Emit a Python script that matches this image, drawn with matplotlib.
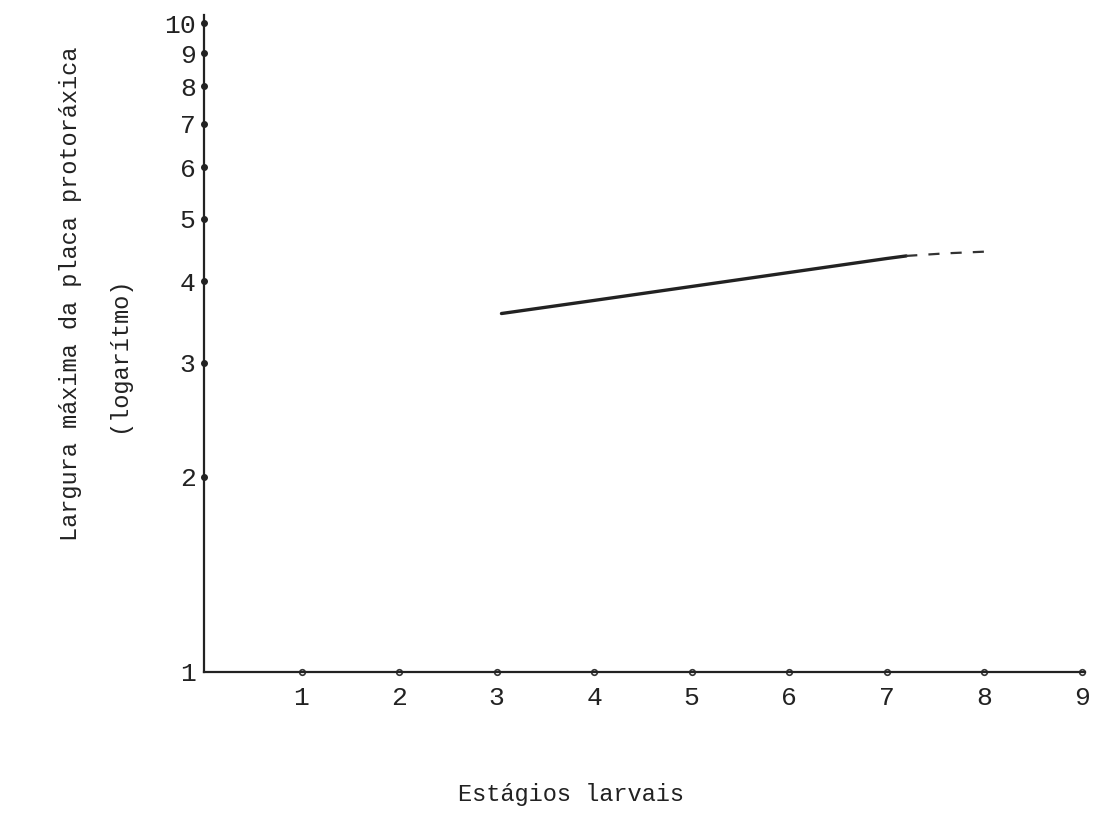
import numpy as np
import matplotlib
matplotlib.use('Agg')
import matplotlib.pyplot as plt
from matplotlib.ticker import FixedLocator, NullLocator

plt.rcParams['font.family'] = ['Liberation Mono', 'DejaVu Sans Mono']

# stages (x) and max width on log scale (y)
stages_solid = [3.05, 4, 5, 6, 7, 7.2]
width_solid = [3.57, 3.74, 3.93, 4.13, 4.34, 4.38]
stages_dash = [7.2, 7.6, 8.05]
width_dash = [4.38, 4.42, 4.45]

x_ticks = [1, 2, 3, 4, 5, 6, 7, 8, 9]
y_ticks = [1, 2, 3, 4, 5, 6, 7, 8, 9, 10]

fig = plt.figure(figsize=(10.99, 8.15), dpi=100)
ax = fig.add_axes([0.1856, 0.1755, 0.8014, 0.806])

ax.set_yscale('log')
ax.set_xlim(0, 9.03)
ax.set_ylim(1, 10.3)

ax.plot(stages_solid, width_solid, color='#222222', lw=2.4, solid_capstyle='round')
ax.plot(stages_dash, width_dash, color='#333333', lw=1.6, ls=(0, (5, 5)))

for s in ['top', 'right']:
    ax.spines[s].set_visible(False)
for s in ['left', 'bottom']:
    ax.spines[s].set_color('#222222')
    ax.spines[s].set_linewidth(1.6)

# tick dots on axes
ax.plot([0] * len(y_ticks[1:]), y_ticks[1:], 'o', color='#222222', ms=4, clip_on=False)
ax.plot(x_ticks, [1] * len(x_ticks), 'o', mfc='white', mec='#333333', ms=4, mew=1.2, clip_on=False)

ax.xaxis.set_major_locator(FixedLocator(x_ticks))
ax.yaxis.set_major_locator(FixedLocator(y_ticks))
ax.yaxis.set_minor_locator(NullLocator())
ax.set_xticklabels([str(v) for v in x_ticks], fontsize=19, color='#222222')
ax.set_yticklabels([str(v) for v in y_ticks], fontsize=19, color='#222222')
ax.tick_params(axis='both', length=0)
ax.tick_params(axis='x', pad=10)
ax.tick_params(axis='y', pad=6)

fig.text(0.064, 0.64, 'Largura máxima da placa protoráxica', rotation=90,
         ha='center', va='center', fontsize=17, color='#222222')
fig.text(0.108, 0.565, '(logarítmo)', rotation=90,
         ha='center', va='center', fontsize=17, color='#222222')
fig.text(0.52, 0.025, 'Estágios larvais', ha='center', va='center',
         fontsize=17, color='#222222')

fig.savefig('out.png', dpi=100, facecolor='white')
